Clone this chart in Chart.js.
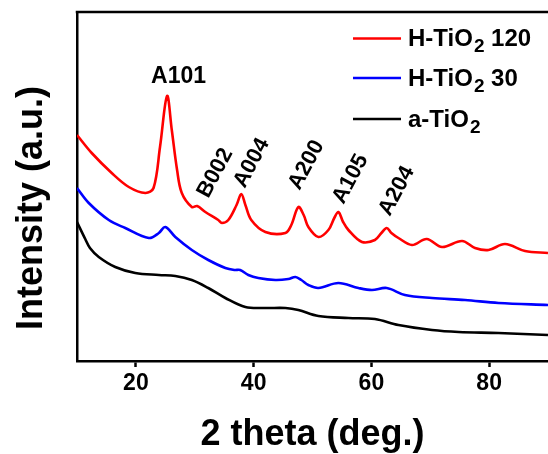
<!DOCTYPE html>
<html>
<head>
<meta charset="utf-8">
<script src="https://cdn.jsdelivr.net/npm/chart.js@4.4.1/dist/chart.umd.min.js"></script>
<style>
  html, body { margin: 0; padding: 0; background: #fff; }
  #wrap { width: 548px; height: 454px; position: relative; }
</style>
</head>
<body>
<div id="wrap"><canvas id="xrdChart"></canvas></div>
<script>
// 2 theta positions and intensities (arbitrary units)
const h120Theta = [10, 12.5, 15.9, 18.8, 21.6, 23.0, 24.1, 25.3, 26.1, 27.0, 27.8, 29.5, 30.4, 31.8, 34.0, 34.6, 35.7, 37.1, 37.9, 38.6, 39.6, 42.0, 45.4, 46.4, 47.6, 48.5, 49.3, 51.0, 52.7, 53.7, 54.4, 55.2, 56.1, 58.4, 60.6, 61.7, 62.6, 63.4, 64.6, 66.9, 69.4, 72.0, 75.4, 77.6, 79.9, 82.7, 86.1, 90];
const h120Int   = [226, 208, 188, 174, 168, 173, 214, 265, 231, 191, 168, 154, 155, 149, 141, 138, 141, 156, 167, 156, 141, 129, 128, 136, 154, 146, 134, 124, 131, 143, 149, 139, 131, 119, 121, 128, 133, 128, 123, 116, 122, 114, 120, 113, 111, 117, 110, 108];

const h30Theta = [10, 12.0, 15.4, 18.2, 22.2, 23.9, 25.0, 26.7, 29.5, 32.3, 35.2, 36.8, 37.7, 39.1, 40.8, 43.7, 45.9, 47.1, 48.1, 49.3, 51.0, 54.4, 57.8, 60.1, 62.6, 65.7, 70.3, 75.9, 81.6, 90];
const h30Int   = [173, 158, 141, 133, 123, 128, 134, 124, 111, 101, 93, 91, 91, 86, 83, 81, 82, 84, 81, 76, 73, 78, 73, 71, 73, 66, 63, 61, 58, 56];

const aTheta = [10, 11.4, 12.2, 13.7, 16.5, 19.9, 23.9, 26.7, 29.5, 32.3, 35.2, 38.6, 42.0, 45.4, 47.6, 51.0, 56.1, 60.6, 64.6, 70.3, 74.8, 81.6, 90];
const aInt   = [139, 122, 113, 104, 94, 88, 86, 85, 81, 73, 63, 54, 53, 53, 51, 45, 43, 42, 36, 31, 29, 28, 26];

const xTicks = [20, 40, 60, 80];

// peak labels, placed in data units
const peakNames = ["A101", "B002", "A004", "A200", "A105", "A204"];
const peakTheta = [27.25, 33.5, 39.7, 49.0, 56.45, 64.3];
const peakInt   = [284, 188, 198, 196, 182, 170];

const seriesNames  = ["120", "30", null];
const seriesColors = ["#ff0000", "#0000ff", "#000000"];

const FONT = "'Liberation Sans', Arial, sans-serif";

function toPoints(xs, ys) {
    return xs.map((x, i) => ({x: x, y: ys[i]}));
}

// draws frame top, titles, peak labels and the legend
const extrasPlugin = {
    id: "extras",
    afterDraw(chart) {
        const {ctx, chartArea, scales} = chart;
        ctx.save();

        // top frame line
        ctx.strokeStyle = "#000";
        ctx.lineWidth = 2.5;
        ctx.beginPath();
        ctx.moveTo(chartArea.left - 1.25, chartArea.top);
        ctx.lineTo(chartArea.right, chartArea.top);
        ctx.stroke();

        ctx.fillStyle = "#000";

        // axis titles
        ctx.font = "bold 36px " + FONT;
        ctx.textAlign = "center";
        ctx.textBaseline = "alphabetic";
        ctx.fillText("2 theta (deg.)", (chartArea.left + chartArea.right) / 2, 445);

        ctx.save();
        ctx.translate(41.5, 208);
        ctx.rotate(-Math.PI / 2);
        ctx.fillText("Intensity (a.u.)", 0, 0);
        ctx.restore();

        // peak labels
        ctx.textBaseline = "middle";
        peakNames.forEach((name, i) => {
            const px = scales.x.getPixelForValue(peakTheta[i]);
            const py = scales.y.getPixelForValue(peakInt[i]);
            ctx.save();
            ctx.translate(px, py);
            if (i === 0) {
                ctx.font = "bold 23px " + FONT;
            } else {
                ctx.font = "bold 22px " + FONT;
                ctx.rotate(-62 * Math.PI / 180);
            }
            ctx.fillText(name, 0, 0);
            ctx.restore();
        });

        // legend
        const rows = [38.5, 78, 119];
        ctx.textAlign = "left";
        ctx.textBaseline = "alphabetic";
        rows.forEach((y, i) => {
            ctx.strokeStyle = seriesColors[i];
            ctx.lineWidth = 2.5;
            ctx.beginPath();
            ctx.moveTo(353, y);
            ctx.lineTo(401, y);
            ctx.stroke();

            let x = 408;
            const base = y + 7.5;
            ctx.font = "bold 24px " + FONT;
            const head = i < 2 ? "H-TiO" : "a-TiO";
            ctx.fillText(head, x, base);
            x += ctx.measureText(head).width + 1;
            ctx.font = "bold 19px " + FONT;
            ctx.fillText("2", x, base + 6);
            x += ctx.measureText("2").width;
            if (seriesNames[i]) {
                ctx.font = "bold 24px " + FONT;
                ctx.fillText(" " + seriesNames[i], x, base);
            }
        });

        ctx.restore();
    }
};

const ctx = document.getElementById("xrdChart").getContext("2d");

new Chart(ctx, {
    type: "line",
    data: {
        datasets: [
            {label: "H-TiO2 120", data: toPoints(h120Theta, h120Int), borderColor: seriesColors[0]},
            {label: "H-TiO2 30", data: toPoints(h30Theta, h30Int), borderColor: seriesColors[1]},
            {label: "a-TiO2", data: toPoints(aTheta, aInt), borderColor: seriesColors[2]}
        ]
    },
    options: {
        responsive: true,
        maintainAspectRatio: false,
        animation: false,
        layout: {padding: {top: 12, right: 0, left: 0, bottom: 0}},
        elements: {
            line: {borderWidth: 2.6, tension: 0.35, fill: false},
            point: {radius: 0}
        },
        plugins: {
            legend: {display: false},
            tooltip: {enabled: false}
        },
        scales: {
            x: {
                type: "linear",
                min: 10,
                max: 90,
                afterFit: s => { s.height = 93; },
                afterBuildTicks: s => { s.ticks = xTicks.map(v => ({value: v})); },
                border: {display: true, color: "#000", width: 2.5},
                grid: {display: true, drawOnChartArea: false, drawTicks: true, tickLength: 6, tickWidth: 2.5, tickColor: "#000"},
                ticks: {color: "#000", padding: 3, maxRotation: 0, font: {family: FONT, size: 23, weight: "bold"}}
            },
            y: {
                min: 0,
                max: 349,
                afterFit: s => { s.width = 77; },
                border: {display: true, color: "#000", width: 2.5},
                grid: {display: false},
                ticks: {display: false}
            }
        }
    },
    plugins: [extrasPlugin]
});
</script>
</body>
</html>
